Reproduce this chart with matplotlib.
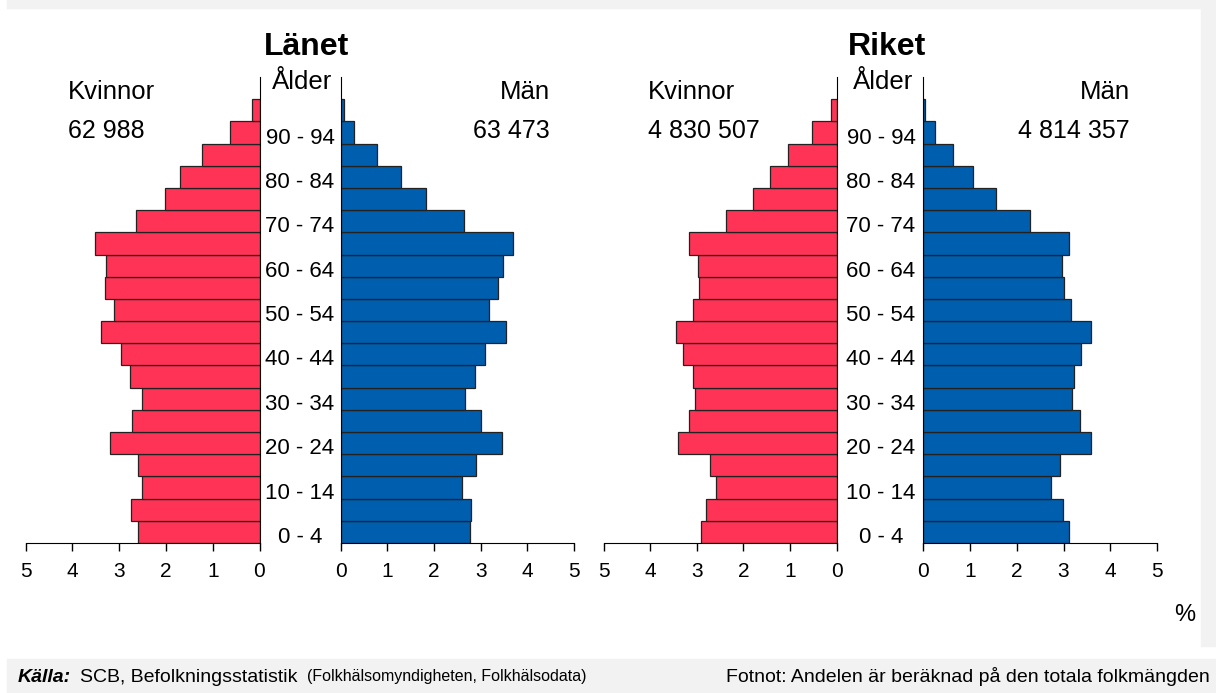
import matplotlib.pyplot as plt
from matplotlib.patches import Rectangle
from matplotlib import transforms

plt.rcParams['font.family'] = ['Liberation Sans', 'DejaVu Sans']

ages = ["0 - 4", "5 - 9", "10 - 14", "15 - 19", "20 - 24", "25 - 29", "30 - 34",
        "35 - 39", "40 - 44", "45 - 49", "50 - 54", "55 - 59", "60 - 64", "65 - 69",
        "70 - 74", "75 - 79", "80 - 84", "85 - 89", "90 - 94", "95 -"]

# percent of total population, youngest first
lanet_kvinnor = [2.60, 2.75, 2.51, 2.60, 3.20, 2.73, 2.51, 2.76, 2.96, 3.38,
                 3.12, 3.30, 3.28, 3.52, 2.63, 2.03, 1.70, 1.23, 0.64, 0.15]
lanet_man = [2.77, 2.79, 2.61, 2.90, 3.46, 3.00, 2.66, 2.87, 3.10, 3.54,
             3.18, 3.38, 3.47, 3.70, 2.65, 1.83, 1.29, 0.78, 0.29, 0.08]
riket_kvinnor = [2.91, 2.80, 2.58, 2.72, 3.40, 3.18, 3.04, 3.09, 3.29, 3.46,
                 3.08, 2.96, 2.97, 3.16, 2.38, 1.79, 1.44, 1.05, 0.52, 0.12]
riket_man = [3.11, 2.98, 2.73, 2.92, 3.58, 3.36, 3.19, 3.22, 3.38, 3.59,
             3.16, 3.02, 2.96, 3.11, 2.29, 1.56, 1.06, 0.64, 0.25, 0.05]

totals = {"Länet": ("62 988", "63 473"), "Riket": ("4 830 507", "4 814 357")}

RED = "#ff3355"
BLUE = "#005eae"
W, H = 1216, 693

fig = plt.figure(figsize=(W / 100, H / 100), dpi=100)

# background bands
fig.patches.append(Rectangle((7 / W, 685 / H), 1 - 7 / W, 8 / H, transform=fig.transFigure,
                             color="#f2f2f2", zorder=0))
fig.patches.append(Rectangle((1201 / W, 47 / H), 15 / W, 638 / H, transform=fig.transFigure,
                             color="#f2f2f2", zorder=0))
fig.patches.append(Rectangle((7 / W, 0), 1 - 7 / W, 34 / H, transform=fig.transFigure,
                             color="#f2f2f2", zorder=0))


def px(x0, x1):
    return [x0 / W, (H - 543) / H, (x1 - x0) / W, 466 / H]


def pyramid(name, women, men, xw0, xw1, xm0, xm1, xlab, kv_x, man_x):
    axw = fig.add_axes(px(xw0, xw1))
    axm = fig.add_axes(px(xm0, xm1))
    y = list(range(len(ages)))
    axw.barh(y, women, height=1.0, color=RED, edgecolor="#222222", linewidth=0.9)
    axm.barh(y, men, height=1.0, color=BLUE, edgecolor="#222222", linewidth=0.9)
    for ax in (axw, axm):
        ax.set_xlim(0, 5)
        ax.set_ylim(-0.5, 20.5)
        ax.set_yticks([])
        ax.set_xticks(range(6))
        ax.tick_params(axis="x", direction="out", length=6, width=1, labelsize=15, pad=8)
        ax.spines["top"].set_visible(False)
        ax.patch.set_alpha(0)
    axw.invert_xaxis()
    axw.spines["left"].set_visible(False)
    axm.spines["right"].set_visible(False)

    tr = transforms.blended_transform_factory(fig.transFigure, axm.transData)
    for i in range(0, len(ages) - 1, 2):
        fig.text(xlab / W, i - 0.25, ages[i], transform=tr, ha="center", va="center",
                 fontsize=16)
    fig.text((xlab + 2) / W, 1 - 82 / H, "Ålder", ha="center", va="center", fontsize=18.5)
    fig.text((xlab + 6) / W, 1 - 47 / H, name, ha="center", va="center", fontsize=23,
             fontweight="bold")
    fig.text(kv_x / W, 1 - 92 / H, "Kvinnor", ha="left", va="center", fontsize=18.5)
    fig.text(kv_x / W, 1 - 131 / H, totals[name][0], ha="left", va="center", fontsize=18)
    fig.text(man_x / W, 1 - 92 / H, "Män", ha="right", va="center", fontsize=18.5)
    fig.text(man_x / W, 1 - 131 / H, totals[name][1], ha="right", va="center", fontsize=18)


pyramid("Länet", lanet_kvinnor, lanet_man, 25.6, 259.5, 340.6, 574, 300, 68, 550)
pyramid("Riket", riket_kvinnor, riket_man, 603.9, 836.5, 923, 1157.2, 881, 648, 1130)

fig.text(1185 / W, 1 - 615 / H, "%", ha="center", va="center", fontsize=17)

fy = 1 - 677 / H
fig.text(18 / W, fy, "Källa:", ha="left", va="center", fontsize=14,
         fontweight="bold", fontstyle="italic")
fig.text(80 / W, fy, "SCB, Befolkningsstatistik", ha="left", va="center", fontsize=14)
fig.text(307 / W, fy, "(Folkhälsomyndigheten, Folkhälsodata)", ha="left", va="center",
         fontsize=11.5)
fig.text(1210 / W, fy, "Fotnot: Andelen är beräknad på den totala folkmängden",
         ha="right", va="center", fontsize=14)

fig.savefig("out.png", dpi=100)
